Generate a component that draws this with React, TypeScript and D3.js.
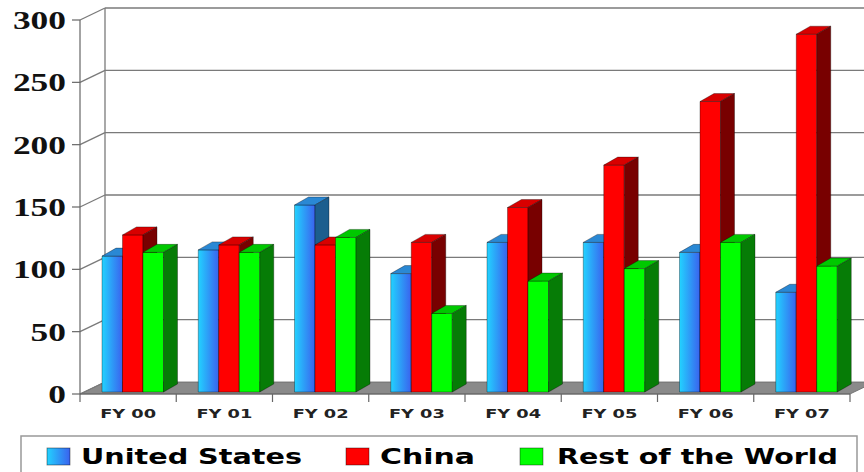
import React, { useEffect, useRef } from 'react';
import * as d3 from 'd3';

// values
const categories = ['FY 00', 'FY 01', 'FY 02', 'FY 03', 'FY 04', 'FY 05', 'FY 06', 'FY 07'];
const seriesNames = ['United States', 'China', 'Rest of the World'];
const unitedStates = [109, 114, 150, 95, 120, 120, 112, 80];
const china = [126, 118, 118, 120, 148, 182, 233, 287];
const restOfWorld = [112, 112, 124, 63, 89, 99, 120, 101];
const yTicks = [0, 50, 100, 150, 200, 250, 300];

const W = 864;
const H = 472;

const App = () => {
  const chartRef = useRef<SVGSVGElement>(null);

  useEffect(() => {
    if (!chartRef.current) return;
    const svg = d3.select(chartRef.current);
    svg.selectAll('*').remove();

    const left = 80, right = 850, bottom = 394, top = 20;
    const wall = { dx: 25, dy: -12 };
    const depth = { dx: 14, dy: -8 };

    const x = d3.scaleBand<string>().domain(categories).range([left, right]);
    const xs = d3.scaleBand<string>().domain(seriesNames).range([22, 83.5]);
    const y = d3.scaleLinear().domain([0, 300]).range([bottom, top]);

    const values = [unitedStates, china, restOfWorld];
    const faces = [
      { front: 'url(#usGrad)', top: '#2a88d4', side: '#1c5e8e' },
      { front: '#ff0000', top: '#d80000', side: '#780000' },
      { front: '#00ff00', top: '#00c800', side: '#067c06' },
    ];

    // gradient for the blue bars
    const defs = svg.append('defs');
    const grad = defs.append('linearGradient')
      .attr('id', 'usGrad')
      .attr('x1', '0%').attr('y1', '0%')
      .attr('x2', '100%').attr('y2', '0%');
    grad.append('stop').attr('offset', '0%').attr('stop-color', '#22d2ff');
    grad.append('stop').attr('offset', '100%').attr('stop-color', '#3a62ee');

    svg.append('rect').attr('width', W).attr('height', H).attr('fill', '#fff');

    // floor
    svg.append('polygon')
      .attr('points', [
        [left, y(0)], [right, y(0)],
        [right + wall.dx, y(0) + wall.dy], [left + wall.dx, y(0) + wall.dy],
      ].map(p => p.join(',')).join(' '))
      .attr('fill', '#8a8a8a')
      .attr('stroke', '#666')
      .attr('stroke-width', 0.8);

    // back wall gridlines + side wall diagonals
    const grid = svg.append('g').attr('stroke', '#7a7a7a').attr('stroke-width', 1.3).attr('fill', 'none');
    yTicks.forEach(t => {
      grid.append('line')
        .attr('x1', left).attr('y1', y(t))
        .attr('x2', left + wall.dx).attr('y2', y(t) + wall.dy);
      if (t > 0) {
        grid.append('line')
          .attr('x1', left + wall.dx).attr('y1', y(t) + wall.dy)
          .attr('x2', W + 20).attr('y2', y(t) + wall.dy);
      }
    });
    grid.append('line')
      .attr('x1', left + wall.dx).attr('y1', y(300) + wall.dy)
      .attr('x2', left + wall.dx).attr('y2', y(0) + wall.dy);

    // bars
    const bars = svg.append('g')
      .attr('stroke', 'rgba(0,0,0,0.55)')
      .attr('stroke-width', 0.6)
      .attr('stroke-linejoin', 'round');
    categories.forEach((cat, i) => {
      seriesNames.forEach((name, s) => {
        const x0 = (x(cat) as number) + (xs(name) as number);
        const w = xs.bandwidth();
        const yBot = y(0) - 2;
        const yTop = y(values[s][i]) - 2;
        const f = faces[s];
        bars.append('rect')
          .attr('x', x0).attr('y', yTop)
          .attr('width', w).attr('height', yBot - yTop)
          .attr('fill', f.front);
        bars.append('polygon')
          .attr('points', [
            [x0, yTop], [x0 + depth.dx, yTop + depth.dy],
            [x0 + w + depth.dx, yTop + depth.dy], [x0 + w, yTop],
          ].map(p => p.join(',')).join(' '))
          .attr('fill', f.top);
        bars.append('polygon')
          .attr('points', [
            [x0 + w, yTop], [x0 + w + depth.dx, yTop + depth.dy],
            [x0 + w + depth.dx, yBot + depth.dy], [x0 + w, yBot],
          ].map(p => p.join(',')).join(' '))
          .attr('fill', f.side);
      });
    });

    // axes
    const axes = svg.append('g').attr('stroke', '#666').attr('stroke-width', 1.2);
    axes.append('line').attr('x1', left).attr('y1', y(300)).attr('x2', left).attr('y2', y(0));
    axes.append('line').attr('x1', left).attr('y1', y(0)).attr('x2', right).attr('y2', y(0));
    yTicks.forEach(t => {
      axes.append('line').attr('x1', left - 8).attr('y1', y(t)).attr('x2', left).attr('y2', y(t));
    });
    d3.range(categories.length + 1).forEach(k => {
      const xx = left + k * x.bandwidth();
      axes.append('line').attr('x1', xx).attr('y1', y(0)).attr('x2', xx).attr('y2', y(0) + 8);
    });

    // y tick labels
    svg.append('g').selectAll('text')
      .data(yTicks)
      .join('text')
      .attr('x', 66)
      .attr('y', d => y(d) + 9)
      .attr('text-anchor', 'end')
      .attr('font-family', '"Liberation Serif", "DejaVu Serif", serif')
      .attr('font-weight', 'bold')
      .attr('font-size', 25)
      .attr('textLength', d => String(d).length * 17.7)
      .attr('lengthAdjust', 'spacingAndGlyphs')
      .attr('fill', '#111')
      .text(d => d);

    // x labels
    svg.append('g').selectAll('text')
      .data(categories)
      .join('text')
      .attr('x', d => (x(d) as number) + x.bandwidth() / 2)
      .attr('y', 418)
      .attr('text-anchor', 'middle')
      .attr('font-family', '"DejaVu Sans", sans-serif')
      .attr('font-weight', 'bold')
      .attr('font-size', 11.5)
      .attr('textLength', 56)
      .attr('lengthAdjust', 'spacingAndGlyphs')
      .attr('fill', '#222')
      .text(d => d);

    // legend
    svg.append('rect')
      .attr('x', 21).attr('y', 436)
      .attr('width', 836).attr('height', 60)
      .attr('fill', '#fff')
      .attr('stroke', '#999')
      .attr('stroke-width', 1.5);
    const legendItems = [
      { sx: 47, tx: 81, tw: 221, fill: 'url(#usGrad)' },
      { sx: 346, tx: 380, tw: 95, fill: '#ff0000' },
      { sx: 520, tx: 557, tw: 281, fill: '#00ff00' },
    ];
    seriesNames.forEach((name, s) => {
      const it = legendItems[s];
      svg.append('rect')
        .attr('x', it.sx).attr('y', 448)
        .attr('width', 23).attr('height', 17)
        .attr('fill', it.fill)
        .attr('stroke', 'rgba(0,0,0,0.5)')
        .attr('stroke-width', 0.8);
      svg.append('text')
        .attr('x', it.tx).attr('y', 464)
        .attr('font-family', '"DejaVu Sans", sans-serif')
        .attr('font-weight', 'bold')
        .attr('font-size', 22)
        .attr('textLength', it.tw)
        .attr('lengthAdjust', 'spacingAndGlyphs')
        .attr('fill', '#000')
        .text(name);
    });
  }, []);

  return (
    <svg
      ref={chartRef}
      width={W}
      height={H}
      style={{ position: 'absolute', left: 0, top: 0, display: 'block' }}
    />
  );
};

export default App;
